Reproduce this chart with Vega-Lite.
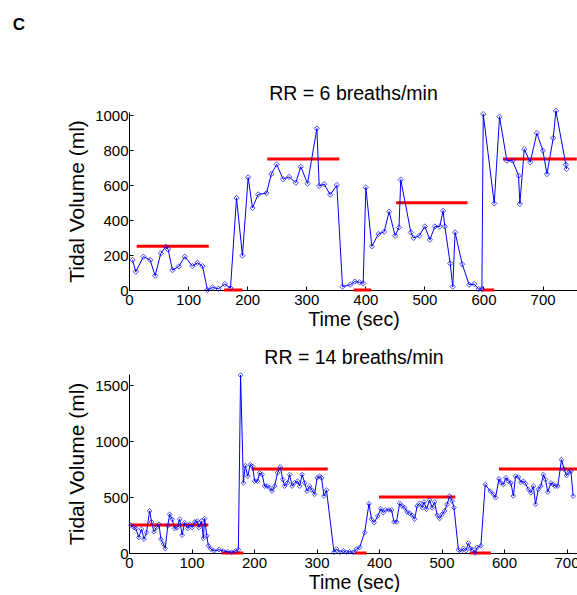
{
  "$schema": "https://vega.github.io/schema/vega-lite/v6.json",
  "padding": {"left": 12, "top": 15, "right": 0, "bottom": 0},
  "title": {"text": "C", "anchor": "start", "fontSize": 17, "fontWeight": "bold", "font": "Liberation Sans", "color": "black", "dx": -54, "offset": 50},
  "config": {
    "view": {"stroke": null},
    "font": "Liberation Sans",
    "title": {"fontSize": 19.5, "fontWeight": "normal", "color": "black", "font": "Liberation Sans"},
    "axis": {"domainColor": "black", "tickColor": "black", "labelColor": "black", "titleColor": "black", "labelFontSize": 15, "titleFontWeight": "normal", "tickSize": -4, "grid": false, "labelFlush": false, "labelOverlap": false, "labelFont": "Liberation Sans", "titleFont": "Liberation Sans", "format": "d", "tickCount": 20},
    "axisX": {"labelPadding": 6, "titlePadding": 3, "titleFontSize": 19.5},
    "axisY": {"labelPadding": 5, "titlePadding": 7, "titleFontSize": 21}
  },
  "spacing": 19,
  "datasets": {
    "top": [
      {"t": 6, "v": 172}, {"t": 11.5, "v": 105}, {"t": 24.5, "v": 191}, {"t": 35.8, "v": 172}, {"t": 44.2, "v": 82}, {"t": 53.8, "v": 210}, {"t": 62.3, "v": 248}, {"t": 66.2, "v": 233}, {"t": 73.6, "v": 114}, {"t": 84.3, "v": 135}, {"t": 94.4, "v": 191}, {"t": 107.4, "v": 137}, {"t": 115.9, "v": 156}, {"t": 124.4, "v": 137}, {"t": 132.8, "v": 0}, {"t": 141.3, "v": 15}, {"t": 151.5, "v": 7}, {"t": 162.2, "v": 34}, {"t": 171.8, "v": 11}, {"t": 182, "v": 527}, {"t": 192, "v": 197}, {"t": 201.7, "v": 645}, {"t": 209, "v": 470}, {"t": 218.7, "v": 548}, {"t": 232.7, "v": 555}, {"t": 241, "v": 665}, {"t": 250, "v": 720}, {"t": 260.9, "v": 635}, {"t": 271, "v": 648}, {"t": 282.4, "v": 615}, {"t": 290.8, "v": 706}, {"t": 302.2, "v": 610}, {"t": 318, "v": 925}, {"t": 321.9, "v": 596}, {"t": 330.4, "v": 607}, {"t": 340.5, "v": 546}, {"t": 351.8, "v": 601}, {"t": 361.4, "v": 19}, {"t": 374.4, "v": 30}, {"t": 382.3, "v": 48}, {"t": 390.2, "v": 44}, {"t": 396.4, "v": 38}, {"t": 400.9, "v": 588}, {"t": 411, "v": 250}, {"t": 422.3, "v": 321}, {"t": 431.9, "v": 334}, {"t": 440.3, "v": 449}, {"t": 450.5, "v": 311}, {"t": 457, "v": 359}, {"t": 460, "v": 632}, {"t": 477.1, "v": 330}, {"t": 481.6, "v": 298}, {"t": 491.2, "v": 311}, {"t": 500.8, "v": 364}, {"t": 509.3, "v": 288}, {"t": 517.7, "v": 364}, {"t": 526, "v": 364}, {"t": 531.7, "v": 454}, {"t": 534.6, "v": 364}, {"t": 543.7, "v": 152}, {"t": 548, "v": 19}, {"t": 552, "v": 330}, {"t": 564, "v": 148}, {"t": 575.8, "v": 30}, {"t": 584.3, "v": 34}, {"t": 591.8, "v": 5}, {"t": 597.3, "v": 5}, {"t": 599.6, "v": 1008}, {"t": 618.2, "v": 496}, {"t": 627.2, "v": 993}, {"t": 639.6, "v": 741}, {"t": 649.2, "v": 741}, {"t": 659.4, "v": 655}, {"t": 661.6, "v": 493}, {"t": 669, "v": 807}, {"t": 679.1, "v": 732}, {"t": 690.4, "v": 899}, {"t": 700.6, "v": 798}, {"t": 707.4, "v": 664}, {"t": 718.1, "v": 871}, {"t": 722.6, "v": 1027}, {"t": 739.5, "v": 718}, {"t": 740.6, "v": 693}
    ],
    "topRed": [
      {"t1": 13, "t2": 135, "v": 250}, {"t1": 161, "t2": 192, "v": 0}, {"t1": 234, "t2": 356, "v": 750}, {"t1": 380, "t2": 410, "v": 0}, {"t1": 452, "t2": 573, "v": 500}, {"t1": 598, "t2": 618, "v": 0}, {"t1": 633, "t2": 758, "v": 750}
    ],
    "bot": [
      {"t": 3, "v": 249}, {"t": 8, "v": 228}, {"t": 11, "v": 219}, {"t": 15.7, "v": 139}, {"t": 20, "v": 213}, {"t": 24, "v": 124}, {"t": 28, "v": 183}, {"t": 33, "v": 376}, {"t": 36, "v": 278}, {"t": 40, "v": 189}, {"t": 44, "v": 228}, {"t": 48, "v": 257}, {"t": 51, "v": 124}, {"t": 55, "v": 80}, {"t": 58, "v": 41}, {"t": 62, "v": 243}, {"t": 65, "v": 346}, {"t": 69, "v": 302}, {"t": 73, "v": 219}, {"t": 77, "v": 228}, {"t": 81, "v": 302}, {"t": 85, "v": 160}, {"t": 89, "v": 272}, {"t": 94, "v": 219}, {"t": 97, "v": 257}, {"t": 101, "v": 228}, {"t": 105, "v": 278}, {"t": 109, "v": 287}, {"t": 112, "v": 228}, {"t": 116, "v": 287}, {"t": 119, "v": 130}, {"t": 121, "v": 308}, {"t": 124.5, "v": 154}, {"t": 127, "v": 65}, {"t": 131, "v": 36}, {"t": 136, "v": 18}, {"t": 144, "v": 30}, {"t": 151, "v": 18}, {"t": 158, "v": 12}, {"t": 164, "v": 6}, {"t": 170, "v": 18}, {"t": 175, "v": 30}, {"t": 178.5, "v": 1589}, {"t": 183, "v": 627}, {"t": 186, "v": 781}, {"t": 190, "v": 686}, {"t": 194, "v": 790}, {"t": 197.6, "v": 775}, {"t": 201, "v": 642}, {"t": 205.6, "v": 642}, {"t": 209, "v": 716}, {"t": 213, "v": 701}, {"t": 217, "v": 598}, {"t": 221, "v": 598}, {"t": 225, "v": 583}, {"t": 229, "v": 553}, {"t": 233, "v": 598}, {"t": 237.6, "v": 716}, {"t": 242, "v": 769}, {"t": 246, "v": 657}, {"t": 249, "v": 598}, {"t": 253.6, "v": 627}, {"t": 257, "v": 701}, {"t": 261, "v": 598}, {"t": 265, "v": 627}, {"t": 269.6, "v": 642}, {"t": 273, "v": 598}, {"t": 277, "v": 701}, {"t": 281, "v": 627}, {"t": 285, "v": 553}, {"t": 289, "v": 598}, {"t": 293, "v": 562}, {"t": 297, "v": 524}, {"t": 301, "v": 672}, {"t": 305, "v": 686}, {"t": 308, "v": 672}, {"t": 312, "v": 509}, {"t": 316, "v": 562}, {"t": 328, "v": 6}, {"t": 332, "v": 36}, {"t": 337.6, "v": 6}, {"t": 343, "v": 21}, {"t": 348, "v": 6}, {"t": 353, "v": 12}, {"t": 359, "v": 6}, {"t": 364, "v": 36}, {"t": 369, "v": 50}, {"t": 377, "v": 183}, {"t": 384, "v": 441}, {"t": 388, "v": 302}, {"t": 392.4, "v": 272}, {"t": 398, "v": 331}, {"t": 403, "v": 396}, {"t": 406.7, "v": 361}, {"t": 410.4, "v": 385}, {"t": 416, "v": 385}, {"t": 420, "v": 385}, {"t": 424, "v": 278}, {"t": 428, "v": 278}, {"t": 433, "v": 444}, {"t": 437, "v": 420}, {"t": 441, "v": 405}, {"t": 445, "v": 367}, {"t": 449, "v": 355}, {"t": 453, "v": 337}, {"t": 457, "v": 302}, {"t": 461, "v": 420}, {"t": 465, "v": 444}, {"t": 469.3, "v": 405}, {"t": 472, "v": 456}, {"t": 476, "v": 391}, {"t": 481, "v": 473}, {"t": 485, "v": 405}, {"t": 489, "v": 456}, {"t": 493, "v": 337}, {"t": 497, "v": 308}, {"t": 501, "v": 346}, {"t": 505, "v": 376}, {"t": 509, "v": 435}, {"t": 513, "v": 509}, {"t": 517, "v": 464}, {"t": 520, "v": 405}, {"t": 527, "v": 30}, {"t": 531, "v": 12}, {"t": 535, "v": 41}, {"t": 539, "v": 21}, {"t": 543, "v": 89}, {"t": 546, "v": 41}, {"t": 550, "v": 30}, {"t": 554, "v": 0}, {"t": 557, "v": 50}, {"t": 563, "v": 65}, {"t": 570, "v": 612}, {"t": 578, "v": 553}, {"t": 583, "v": 524}, {"t": 586.4, "v": 494}, {"t": 592, "v": 663}, {"t": 595, "v": 627}, {"t": 599, "v": 612}, {"t": 603, "v": 672}, {"t": 607, "v": 642}, {"t": 611, "v": 627}, {"t": 615, "v": 509}, {"t": 618.4, "v": 686}, {"t": 623, "v": 680}, {"t": 627, "v": 633}, {"t": 631, "v": 642}, {"t": 634.4, "v": 621}, {"t": 639, "v": 568}, {"t": 643, "v": 538}, {"t": 647, "v": 598}, {"t": 650.4, "v": 435}, {"t": 654.7, "v": 568}, {"t": 659, "v": 598}, {"t": 663, "v": 701}, {"t": 666.4, "v": 657}, {"t": 670, "v": 544}, {"t": 675, "v": 627}, {"t": 678.7, "v": 612}, {"t": 682, "v": 598}, {"t": 686, "v": 598}, {"t": 692, "v": 834}, {"t": 696, "v": 751}, {"t": 700, "v": 692}, {"t": 704, "v": 722}, {"t": 707, "v": 731}, {"t": 710.7, "v": 509}
    ],
    "botRed": [
      {"t1": 2, "t2": 127, "v": 250}, {"t1": 148, "t2": 183, "v": 0}, {"t1": 196, "t2": 318, "v": 750}, {"t1": 361, "t2": 380, "v": 0}, {"t1": 400, "t2": 522, "v": 500}, {"t1": 545, "t2": 579, "v": 0}, {"t1": 592, "t2": 717, "v": 750}
    ]
  },
  "vconcat": [
    {
      "width": 449,
      "height": 178,
      "title": {"text": "RR = 6 breaths/min", "offset": 2},
      "layer": [
        {
          "data": {"name": "topRed"},
          "mark": {"type": "rule", "color": "#ff0000", "strokeWidth": 3},
          "encoding": {
            "x": {"field": "t1", "type": "quantitative", "scale": {"domain": [0, 760], "nice": false, "zero": false}, "axis": {"values": [0, 100, 200, 300, 400, 500, 600, 700], "title": "Time (sec)", "labelOverlap": false, "tickCount": 20}},
            "x2": {"field": "t2"},
            "y": {"field": "v", "type": "quantitative", "scale": {"domain": [0, 1020], "nice": false}, "axis": {"values": [0, 200, 400, 600, 800, 1000], "title": "Tidal Volume (ml)", "labelOverlap": false, "tickCount": 20}}
          }
        },
        {
          "data": {"name": "top"},
          "mark": {"type": "line", "color": "#0000ff", "strokeWidth": 1},
          "encoding": {
            "x": {"field": "t", "type": "quantitative"},
            "y": {"field": "v", "type": "quantitative"}
          }
        },
        {
          "data": {"name": "top"},
          "mark": {"type": "point", "shape": "diamond", "filled": false, "stroke": "#0000ff", "strokeWidth": 1, "size": 28},
          "encoding": {
            "x": {"field": "t", "type": "quantitative"},
            "y": {"field": "v", "type": "quantitative"}
          }
        }
      ]
    },
    {
      "width": 450,
      "height": 179,
      "title": {"text": "RR = 14 breaths/min", "offset": 2},
      "layer": [
        {
          "data": {"name": "botRed"},
          "mark": {"type": "rule", "color": "#ff0000", "strokeWidth": 3},
          "encoding": {
            "x": {"field": "t1", "type": "quantitative", "scale": {"domain": [0, 720], "nice": false, "zero": false}, "axis": {"values": [0, 100, 200, 300, 400, 500, 600, 700], "title": "Time (sec)", "labelOverlap": false, "tickCount": 20}},
            "x2": {"field": "t2"},
            "y": {"field": "v", "type": "quantitative", "scale": {"domain": [0, 1600], "nice": false}, "axis": {"values": [0, 500, 1000, 1500], "title": "Tidal Volume (ml)", "labelOverlap": false, "tickCount": 20}}
          }
        },
        {
          "data": {"name": "bot"},
          "mark": {"type": "line", "color": "#0000ff", "strokeWidth": 1},
          "encoding": {
            "x": {"field": "t", "type": "quantitative"},
            "y": {"field": "v", "type": "quantitative"}
          }
        },
        {
          "data": {"name": "bot"},
          "mark": {"type": "point", "shape": "diamond", "filled": false, "stroke": "#0000ff", "strokeWidth": 1, "size": 22},
          "encoding": {
            "x": {"field": "t", "type": "quantitative"},
            "y": {"field": "v", "type": "quantitative"}
          }
        }
      ]
    }
  ]
}
